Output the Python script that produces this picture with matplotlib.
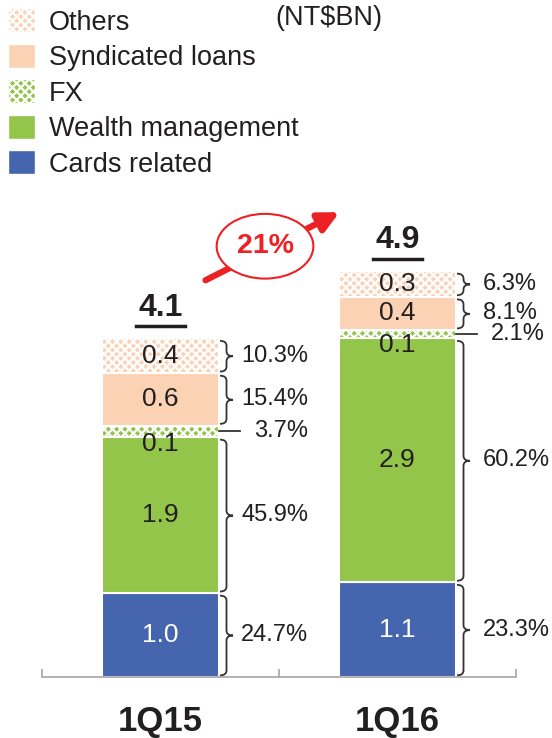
import matplotlib
matplotlib.use("Agg")
import matplotlib.pyplot as plt
from matplotlib.patches import Patch, Ellipse, PathPatch
from matplotlib.path import Path
import numpy as np

plt.rcParams['font.family'] = ['Liberation Sans', 'DejaVu Sans']
plt.rcParams['hatch.linewidth'] = 1.6

periods = ["1Q15", "1Q16"]
segments = ["Cards related", "Wealth management", "FX", "Syndicated loans", "Others"]
# NT$BN, bottom to top
values_1q15 = [1.01, 1.88, 0.14, 0.63, 0.42]
values_1q16 = [1.14, 2.94, 0.10, 0.40, 0.31]
share_1q15 = ["24.7%", "45.9%", "3.7%", "15.4%", "10.3%"]
share_1q16 = ["23.3%", "60.2%", "2.1%", "8.1%", "6.3%"]
growth = "21%"

colors = ["#4565AE", "#92C54A", "#92C54A", "#FBD3B4", "#F9D3B8"]
hatches = [None, None, "xxxx", None, "xxxx"]
txt = "#231F20"
red = "#ED2024"


def brace(ax, x, y0, y1, w, r):
    ym = (y0 + y1) / 2
    verts = [(x, y0), (x + w/2, y0), (x + w/2, y0 + r), (x + w/2, ym - r),
             (x + w/2, ym), (x + w, ym), (x + w/2, ym), (x + w/2, ym + r),
             (x + w/2, y1 - r), (x + w/2, y1), (x, y1)]
    codes = [Path.MOVETO, Path.CURVE3, Path.CURVE3, Path.LINETO,
             Path.CURVE3, Path.CURVE3, Path.CURVE3, Path.CURVE3,
             Path.LINETO, Path.CURVE3, Path.CURVE3]
    ax.add_patch(PathPatch(Path(verts, codes), fill=False, lw=1.3,
                           edgecolor="#333333", clip_on=False))


fig = plt.figure(figsize=(5.52, 7.38), dpi=100)
ax = fig.add_axes([42/552, 61/738, 474/552, 477/738])
ax.set_xlim(-0.5, 1.5)
ax.set_ylim(0, 477/83)

width = 0.49
for i, (vals, shares) in enumerate([(values_1q15, share_1q15), (values_1q16, share_1q16)]):
    bottom = 0
    right = i + width/2
    for j, v in enumerate(vals):
        ax.bar(i, v, width, bottom=bottom, color=colors[j], hatch=hatches[j],
               edgecolor="white", linewidth=1.5)
        mid = bottom + v/2
        if j == 2:
            # FX value sits just under its thin strip
            ax.text(i, bottom - 0.08, f"{v:.1f}", ha="center", va="center",
                    fontsize=19, color=txt)
            ax.plot([right, right + 0.09], [mid, mid], color="#333333", lw=1.3,
                    clip_on=False)
            ax.text(right + 0.15, mid, shares[j], ha="left", va="center",
                    fontsize=17, color=txt)
        else:
            ax.text(i, mid, f"{v:.1f}", ha="center", va="center", fontsize=19,
                    color="white" if j == 0 else txt)
            r = min(0.06, v/5)
            brace(ax, right + 0.006, bottom + 0.02, bottom + v - 0.03, 0.055, r)
            ax.text(right + 0.095 + 0.02*i, mid, shares[j], ha="left", va="center",
                    fontsize=17, color=txt)
        bottom += v
    ax.text(i, bottom + 0.37, f"{sum(vals):.1f}", ha="center", va="center",
            fontsize=23, fontweight="bold", color=txt)
    ax.plot([i - 0.105, i + 0.105], [bottom + 0.15, bottom + 0.15], color=txt, lw=2.5)

# growth arrow
ax.annotate("", xy=(0.755, 5.6), xytext=(0.19, 4.78),
            arrowprops=dict(arrowstyle="-|>", color=red, lw=4.5, mutation_scale=30,
                            shrinkA=0, shrinkB=0), annotation_clip=False)
ax.add_patch(Ellipse((0.441, 5.19), 0.408, 0.78, facecolor="white",
                     edgecolor=red, lw=1.5, zorder=5, clip_on=False))
ax.text(0.441, 5.19, growth, ha="center", va="center", fontsize=20.5,
        fontweight="bold", color=red, zorder=6)

for s in ["top", "left", "right"]:
    ax.spines[s].set_visible(False)
ax.spines["bottom"].set_color("#A6A6A6")
ax.spines["bottom"].set_linewidth(1.2)
ax.set_yticks([])
ax.set_xticks([-0.5, 0.5, 1.5], ["", "", ""])
ax.tick_params(axis="x", which="major", direction="in", length=6, color="#A6A6A6", width=1.2)
ax.set_xticks([0, 1], periods, minor=True)
ax.tick_params(axis="x", which="minor", length=0, pad=20, labelsize=25)
for lbl in ax.get_xticklabels(minor=True):
    lbl.set_fontweight("bold")
    lbl.set_color(txt)

handles = [Patch(facecolor=colors[j], hatch=hatches[j], edgecolor="white",
                 label=segments[j]) for j in range(4, -1, -1)]
leg = fig.legend(handles=handles, loc="upper left", bbox_to_anchor=(0, 1),
                 frameon=False, fontsize=19.5, handlelength=1.0, handleheight=1.0,
                 handletextpad=0.5, labelspacing=0.3, borderpad=0.3,
                 borderaxespad=0)
for t in leg.get_texts():
    t.set_color(txt)

fig.text(275/552, 1 - 18/738, "(NT$BN)", ha="left", va="center", fontsize=19.5, color=txt)

fig.savefig("out.png", dpi=100)
